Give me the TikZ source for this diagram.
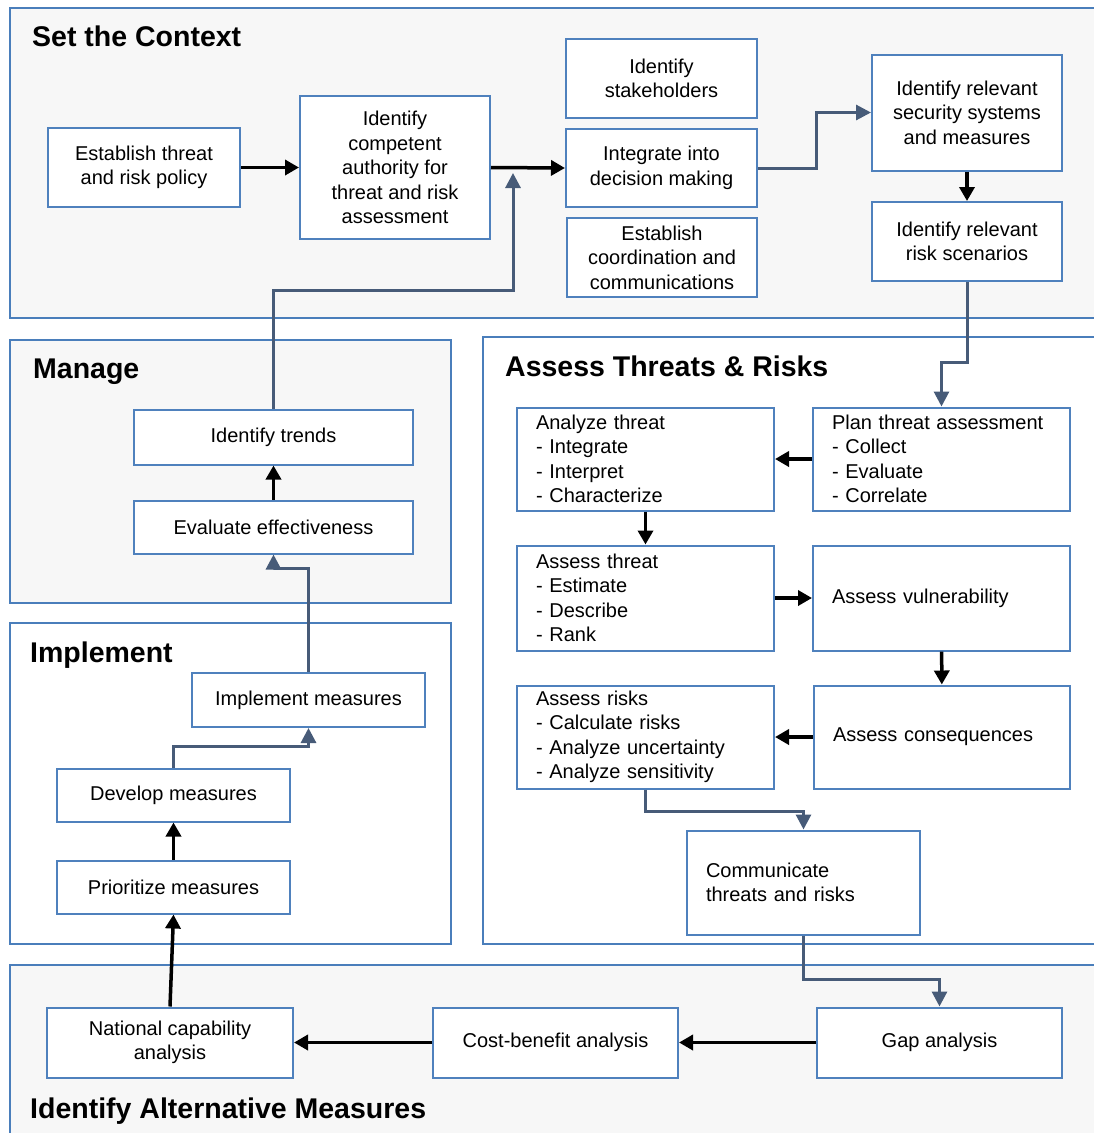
\documentclass[tikz,border=0pt]{standalone}
\usepackage{fontspec}
\setmainfont{Liberation Sans}
\usetikzlibrary{arrows.meta}

\definecolor{panelblue}{HTML}{4A7EBB}
\definecolor{boxblue}{HTML}{4F81BD}
\definecolor{linkgray}{HTML}{475B78}
\definecolor{panelfill}{HTML}{F7F7F7}

\begin{document}
\begin{tikzpicture}[x=1pt,y=-1pt,
  panel/.style={draw=panelblue, line width=2pt},
  shaded/.style={panel, fill=panelfill},
  plain/.style={panel, fill=white},
  title/.style={font=\fontsize{28.5}{32}\selectfont\bfseries, anchor=base west, inner sep=0pt},
  box/.style={draw=boxblue, line width=2pt, fill=white, align=center,
    inner xsep=4pt, inner ysep=2pt, font=\fontsize{20}{24.5}\selectfont},
  lbox/.style={box, align=left, inner xsep=19pt, text width=#1},
  flow/.style={line width=3.5pt, draw=black, -{Triangle[length=14pt,width=15pt]}},
  link/.style={line width=3pt, draw=linkgray, -{Triangle[length=15pt,width=15pt]}}
]
\clip (0,0) rectangle (1094,1133);
\fill[white] (0,0) rectangle (1094,1133);

% ---- stage panels ----
\draw[shaded] (10,8) rectangle (1100,318);
\draw[shaded] (10,340) rectangle (451,603);
\draw[plain] (10,623) rectangle (451,944);
\draw[plain] (483,337) rectangle (1100,944);
\draw[shaded] (10,965) rectangle (1100,1140);

\node[title] (tcontext) at (32,46) {Set the Context};
\node[title] (tmanage) at (33,378) {Manage};
\node[title] (timpl) at (30,662) {Implement};
\node[title] (tassess) at (505,376) {Assess Threats \& Risks};
\node[title] (talt) at (30,1118) {Identify Alternative Measures};

% ---- Set the Context ----
\node[box, minimum width=192, minimum height=79] (policy) at (144,167.5)
  {Establish threat\\and risk policy};
\node[box, minimum width=190, minimum height=143] (authority) at (395,167.5)
  {Identify\\competent\\authority for\\threat and risk\\assessment};
\node[box, minimum width=191, minimum height=79] (stake) at (661.5,78.5)
  {Identify\\stakeholders};
\node[box, minimum width=191, minimum height=78] (integrate) at (661.5,168)
  {Integrate into\\decision making};
\node[box, minimum width=190, minimum height=79] (coord) at (662,257.5)
  {Establish\\coordination and\\communications};
\node[box, minimum width=190, minimum height=116] (secsys) at (967,112.5)
  {Identify relevant\\security systems\\and measures};
\node[box, minimum width=190, minimum height=79] (scen) at (967,241.5)
  {Identify relevant\\risk scenarios};

% ---- Assess Threats & Risks ----
\node[lbox=219, minimum height=103] (analyze) at (645.5,459)
  {Analyze threat\\- Integrate\\- Interpret\\- Characterize};
\node[lbox=219, minimum height=103] (plan) at (941.5,459)
  {Plan threat assessment\\- Collect\\- Evaluate\\- Correlate};
\node[lbox=219, minimum height=105] (athreat) at (645.5,598)
  {Assess threat\\- Estimate\\- Describe\\- Rank};
\node[lbox=219, minimum height=105] (vuln) at (941.5,598)
  {Assess vulnerability};
\node[lbox=219, minimum height=103] (arisks) at (645.5,737)
  {Assess risks\\- Calculate risks\\- Analyze uncertainty\\- Analyze sensitivity};
\node[lbox=218, minimum height=103] (conseq) at (942,737)
  {Assess consequences};
\node[lbox=195, minimum height=104] (comm) at (803.5,882.5)
  {Communicate\\threats and risks};

% ---- Manage ----
\node[box, minimum width=279, minimum height=55] (trends) at (273.5,437)
  {Identify trends};
\node[box, minimum width=279, minimum height=53] (evaluate) at (273.5,527)
  {Evaluate effectiveness};

% ---- Implement ----
\node[box, minimum width=233, minimum height=54] (impl) at (308.5,700)
  {Implement measures};
\node[box, minimum width=233, minimum height=53] (develop) at (173.5,795)
  {Develop measures};
\node[box, minimum width=233, minimum height=53] (prior) at (173.5,887)
  {Prioritize measures};

% ---- Identify Alternative Measures ----
\node[box, minimum width=246, minimum height=70] (natcap) at (170,1042.5)
  {National capability\\analysis};
\node[box, minimum width=245, minimum height=70] (cba) at (555.5,1042.5)
  {Cost-benefit analysis};
\node[box, minimum width=245, minimum height=70] (gap) at (939.5,1042.5)
  {Gap analysis};

% ---- connectors ----
\coordinate (merge) at (513,173);
\coordinate (trendbend) at (273.5,290);

\draw[flow] (policy) -- (authority);
\draw[flow] (authority.east) -- (integrate.west);
\draw[link] (trends.north) -- (trendbend) -| (merge);
\draw[link] (integrate.east) -- ++(58,0) |- (secsys.west);
\draw[flow] (secsys) -- (scen);
\draw[link] (scen.south) -- ++(0,80) -| (plan.north);

\draw[flow] (plan) -- (analyze);
\draw[flow] (analyze) -- (athreat);
\draw[flow] (athreat) -- (vuln);
\draw[flow] (vuln) -- (conseq);
\draw[flow] (conseq) -- (arisks);
\draw[link] (arisks.south) -- ++(0,22) -| (comm.north);
\draw[link] (comm.south) -- ++(0,44) -| (gap.north);

\draw[flow] (gap) -- (cba);
\draw[flow] (cba) -- (natcap);
\draw[flow] (natcap.north) -- (prior.south);
\draw[flow] (prior) -- (develop);
\draw[link] (develop.north) -- ++(0,-21) -| (impl.south);
\draw[link] (impl.north) -- ++(0,-104) -| (evaluate.south);
\draw[flow] (evaluate) -- (trends);
\end{tikzpicture}
\end{document}
